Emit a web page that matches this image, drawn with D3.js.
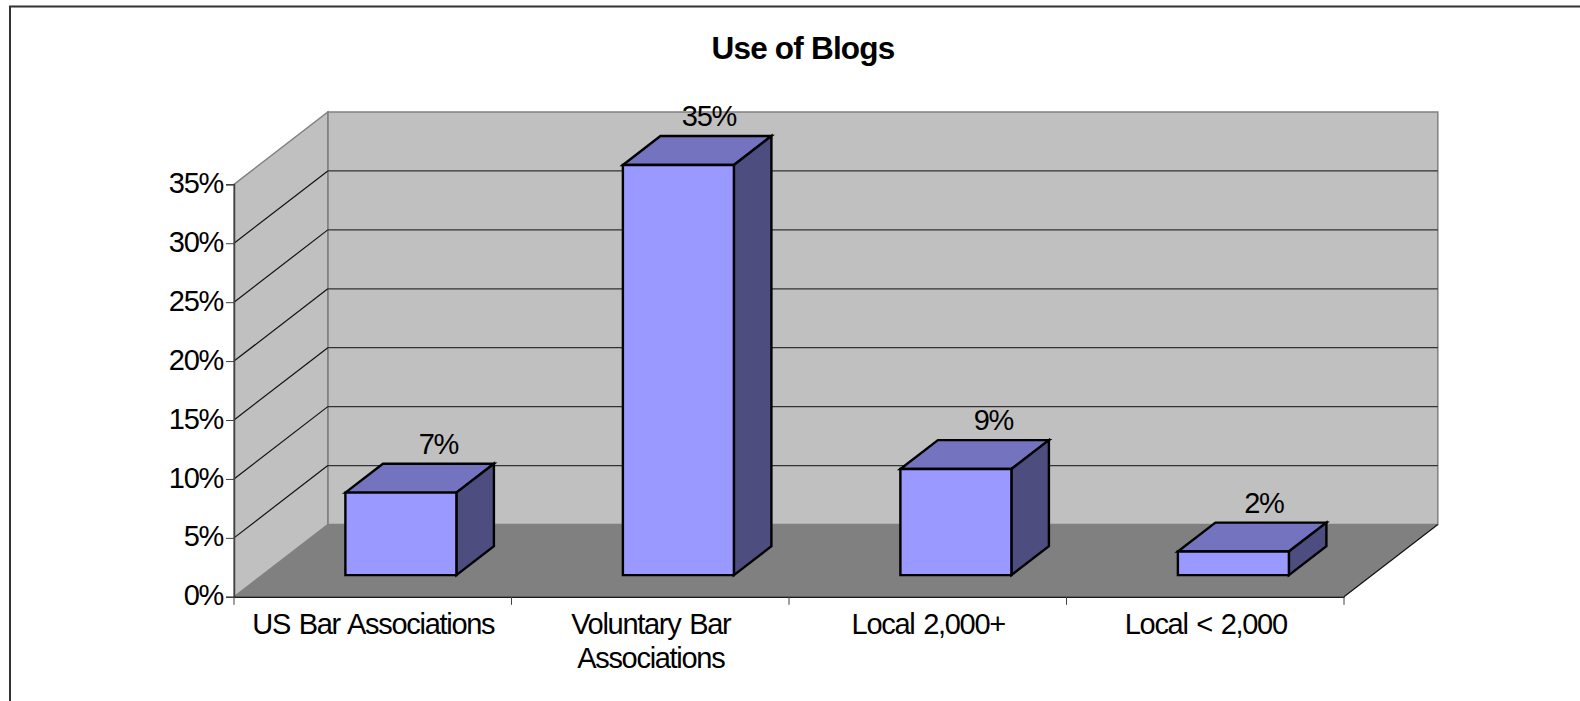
<!DOCTYPE html>
<html>
<head>
<meta charset="utf-8">
<title>Use of Blogs</title>
<script src="https://cdn.jsdelivr.net/npm/d3@7/dist/d3.min.js"></script>
<style>
html, body { margin: 0; padding: 0; background: #fff; overflow: hidden; }
svg { display: block; }
text { font-family: "Liberation Sans", Arial, sans-serif; fill: #000; }
.axis text, .value-label { font-size: 29px; letter-spacing: -1.3px; word-spacing: 2px; }
.chart-title { font-size: 31.5px; font-weight: bold; letter-spacing: -0.8px; }
</style>
</head>
<body>
<script>
var categories = ["US Bar Associations", "Voluntary Bar\nAssociations", "Local 2,000+", "Local < 2,000"];
var values = [7, 34.8, 9, 2];
var yTicks = [0, 5, 10, 15, 20, 25, 30, 35];
var chartTitle = "Use of Blogs";

var width = 1580, height = 701;

// Plot box, front edge of the floor and top of the left wall
var plot = { left: 234, right: 1344, top: 184.3, bottom: 596.8 };
// 3D offset from the front of the floor to the back wall
var depth = { x: 93.8, y: -72.3 };

var svg = d3.select("body").append("svg")
    .attr("width", width)
    .attr("height", height);

var x = d3.scaleBand().domain(categories).range([plot.left, plot.right]).paddingInner(0).paddingOuter(0);
var y = d3.scaleLinear().domain([0, 35]).range([plot.bottom, plot.top]);

function pts(list) {
    return list.map(function(p) { return p.join(","); }).join(" ");
}

// Frame, runs off the right and bottom of the picture
svg.append("path")
    .attr("d", "M10,701 V6.5 H1580")
    .attr("fill", "none")
    .attr("stroke", "#333")
    .attr("stroke-width", 2);

// Back wall
svg.append("rect")
    .attr("x", plot.left + depth.x)
    .attr("y", plot.top + depth.y)
    .attr("width", plot.right - plot.left)
    .attr("height", plot.bottom - plot.top)
    .attr("fill", "#c0c0c0")
    .attr("stroke", "#808080")
    .attr("stroke-width", 1.5);

// Side wall
svg.append("polygon")
    .attr("points", pts([
        [plot.left, plot.top],
        [plot.left + depth.x, plot.top + depth.y],
        [plot.left + depth.x, plot.bottom + depth.y],
        [plot.left, plot.bottom]
    ]))
    .attr("fill", "#c0c0c0")
    .attr("stroke", "#808080")
    .attr("stroke-width", 1.5);

// Floor
svg.append("polygon")
    .attr("points", pts([
        [plot.left, plot.bottom],
        [plot.left + depth.x, plot.bottom + depth.y],
        [plot.right + depth.x, plot.bottom + depth.y],
        [plot.right, plot.bottom]
    ]))
    .attr("fill", "#808080");

// Gridlines, along the side wall and over the back wall
var gridTicks = yTicks.filter(function(d) { return d > 0 && d < 35; });

svg.selectAll("line.grid-side")
    .data(gridTicks).enter()
    .append("line")
    .attr("class", "grid-side")
    .attr("x1", plot.left)
    .attr("y1", function(d) { return y(d); })
    .attr("x2", plot.left + depth.x)
    .attr("y2", function(d) { return y(d) + depth.y; })
    .attr("stroke", "#111")
    .attr("stroke-width", 1.2);

svg.selectAll("line.grid-back")
    .data(gridTicks).enter()
    .append("line")
    .attr("class", "grid-back")
    .attr("x1", plot.left + depth.x)
    .attr("y1", function(d) { return y(d) + depth.y; })
    .attr("x2", plot.right + depth.x)
    .attr("y2", function(d) { return y(d) + depth.y; })
    .attr("stroke", "#333")
    .attr("stroke-width", 1.3);

// Front right edge of the floor
svg.append("line")
    .attr("x1", plot.right)
    .attr("y1", plot.bottom)
    .attr("x2", plot.right + depth.x)
    .attr("y2", plot.bottom + depth.y)
    .attr("stroke", "#111")
    .attr("stroke-width", 1.2);

// Axis Y
var axisY = svg.append("g")
    .attr("class", "axis axis--y")
    .attr("transform", "translate(" + plot.left + ",0)")
    .call(d3.axisLeft(y).tickValues(yTicks).tickSize(8).tickPadding(3).tickFormat(function(d) { return d + "%"; }));
axisY.select(".domain").attr("stroke", "#404040").attr("stroke-width", 1.5);
axisY.selectAll(".tick line").attr("stroke", "#404040");
axisY.selectAll(".tick text").attr("dy", "0.28em").style("font-size", "29px");

// Axis X, labels are centred in the band and the ticks sit on the band edges
var axisX = svg.append("g")
    .attr("class", "axis axis--x")
    .attr("transform", "translate(0," + plot.bottom + ")")
    .call(d3.axisBottom(x).tickSize(0).tickPadding(0));
axisX.select(".domain").attr("stroke", "#1a1a1a").attr("stroke-width", 1.5);

axisX.selectAll(".tick text").style("font-size", "29px").each(function(d) {
    var label = d3.select(this).text(null).attr("y", 0).attr("dy", null);
    d.split("\n").forEach(function(line, i) {
        label.append("tspan")
            .attr("x", 0.5)
            .attr("y", 37.5 + i * 33.4)
            .text(line);
    });
});

axisX.selectAll("line.edge")
    .data(d3.range(categories.length + 1)).enter()
    .append("line")
    .attr("class", "edge")
    .attr("x1", function(i) { return plot.left + i * x.step(); })
    .attr("x2", function(i) { return plot.left + i * x.step(); })
    .attr("y1", 0)
    .attr("y2", 8)
    .attr("stroke", "#404040")
    .attr("stroke-width", 1);

// Bars, each one a box sitting in the middle 40% of the floor depth
var barWidth = x.step() * 0.4;
var barStart = 0.3, barDepth = 0.4;

var bars = svg.selectAll("g.bar")
    .data(values).enter()
    .append("g")
    .attr("class", "bar")
    .each(function(v, i) {
        var g = d3.select(this);
        var x0 = x(categories[i]) + (x.step() - barWidth) / 2 + depth.x * barStart;
        var x1 = x0 + barWidth;
        var yBase = y(0) + depth.y * barStart;
        var yTop = yBase - (y(0) - y(v));
        var dx = depth.x * barDepth, dy = depth.y * barDepth;

        var faces = [
            { fill: "#7373bf", p: [[x0, yTop], [x0 + dx, yTop + dy], [x1 + dx, yTop + dy], [x1, yTop]] },
            { fill: "#4d4d80", p: [[x1, yTop], [x1 + dx, yTop + dy], [x1 + dx, yBase + dy], [x1, yBase]] },
            { fill: "#9999ff", p: [[x0, yTop], [x1, yTop], [x1, yBase], [x0, yBase]] }
        ];

        g.selectAll("polygon")
            .data(faces).enter()
            .append("polygon")
            .attr("points", function(f) { return pts(f.p); })
            .attr("fill", function(f) { return f.fill; })
            .attr("stroke", "#000")
            .attr("stroke-width", 2.4)
            .attr("stroke-linejoin", "miter");

        // The original's labels for the 2nd and 4th bars sit a little left of centre
        var nudge = (i % 2 === 1) ? -7 : 0;
        g.append("text")
            .attr("class", "value-label")
            .attr("x", (x0 + x1) / 2 + dx + nudge)
            .attr("y", yTop + dy - 10)
            .attr("text-anchor", "middle")
            .text(Math.round(v) + "%");
    });

// Title
svg.append("text")
    .attr("class", "chart-title")
    .attr("x", 803)
    .attr("y", 58.7)
    .attr("text-anchor", "middle")
    .text(chartTitle);
</script>
</body>
</html>
